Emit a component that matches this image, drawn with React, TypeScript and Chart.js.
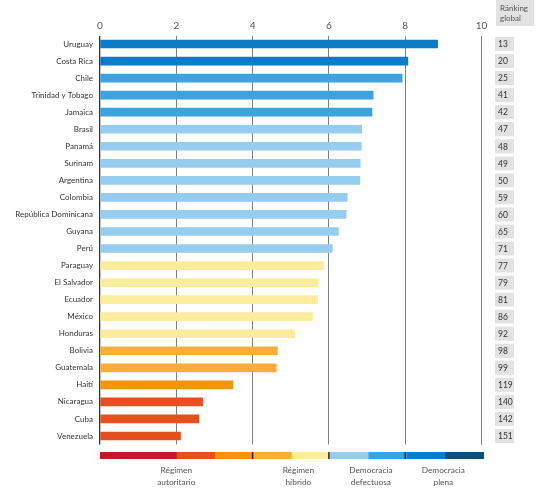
import React, { useEffect, useRef } from "react";
import { Chart, registerables } from "chart.js";

Chart.register(...registerables);

const countries = [
  "Uruguay", "Costa Rica", "Chile", "Trinidad y Tobago", "Jamaica", "Brasil", "Panamá",
  "Surinam", "Argentina", "Colombia", "República Dominicana", "Guyana", "Perú", "Paraguay",
  "El Salvador", "Ecuador", "México", "Honduras", "Bolivia", "Guatemala", "Haití",
  "Nicaragua", "Cuba", "Venezuela",
];
const scores = [
  8.85, 8.07, 7.92, 7.16, 7.13, 6.86, 6.85, 6.82, 6.81, 6.48, 6.45, 6.25, 6.09, 5.86,
  5.72, 5.71, 5.57, 5.1, 4.65, 4.62, 3.48, 2.69, 2.59, 2.11,
];
const ranks = [13, 20, 25, 41, 42, 47, 48, 49, 50, 59, 60, 65, 71, 77, 79, 81, 86, 92, 98, 99, 119, 140, 142, 151];
const xTicks = [0, 2, 4, 6, 8, 10];
const bandEdges = [0, 2, 3, 4, 5, 6, 7, 8, 9, 10];
const bandColors = [
  "#c3172a", "#e4501f", "#f29410", "#fbad3a", "#fcec9d", "#94cdee", "#3aa4de", "#0c7cc8", "#0d4d80",
];
const bandSeparators = [4, 6, 8];
const legendLabels = [
  ["Régimen", "autoritario"],
  ["Régimen", "híbrido"],
  ["Democracia", "defectuosa"],
  ["Democracia", "plena"],
];
const legendPositions = [2, 5.2, 7.1, 9];
const rankHeader = ["Ránking", "global"];

const FONT = "Lato, 'Noto Sans', sans-serif";

function colorFor(v: number): string {
  for (let i = 0; i < bandColors.length; i++) {
    if (v >= bandEdges[i] && v < bandEdges[i + 1]) return bandColors[i];
  }
  return bandColors[bandColors.length - 1];
}

const extras = {
  id: "extras",
  afterDraw(chart: any) {
    const { ctx, scales } = chart;
    const x = scales.x;
    const y = scales.y;
    ctx.save();
    // ranking header
    ctx.fillStyle = "#e2e2e2";
    ctx.fillRect(496, 0, 38, 26);
    ctx.fillStyle = "#555";
    ctx.font = `8px ${FONT}`;
    ctx.textAlign = "left";
    ctx.textBaseline = "middle";
    ctx.fillText(rankHeader[0], 500, 8);
    ctx.fillText(rankHeader[1], 500, 18.5);
    // ranking boxes
    ranks.forEach((r, i) => {
      const cy = y.getPixelForValue(i);
      ctx.fillStyle = "#e2e2e2";
      ctx.fillRect(495, cy - 7, 19, 14);
      ctx.fillStyle = "#333";
      ctx.font = `8.5px ${FONT}`;
      ctx.fillText(String(r), 498, cy + 0.5);
    });
    // legend band bar
    const top = 452;
    const h = 7;
    const x0all = x.getPixelForValue(0);
    const x1all = x.getPixelForValue(10) + 2;
    const k = (x1all - x0all) / 10;
    bandColors.forEach((c, i) => {
      const a = x0all + bandEdges[i] * k;
      const b = x0all + bandEdges[i + 1] * k;
      ctx.fillStyle = c;
      ctx.fillRect(a, top, b - a + 0.5, h);
    });
    ctx.fillStyle = "#222";
    bandSeparators.forEach((v) => {
      const px = x.getPixelForValue(v);
      ctx.fillRect(px - 0.75, top, 1.5, h);
    });
    ctx.fillStyle = "#555";
    ctx.font = `8.3px ${FONT}`;
    ctx.textAlign = "center";
    legendLabels.forEach((lines, i) => {
      const px = x.getPixelForValue(legendPositions[i]);
      lines.forEach((t, j) => ctx.fillText(t, px, 470.5 + j * 12));
    });
    ctx.restore();
  },
};

export default function App() {
  const ref = useRef<HTMLCanvasElement>(null);
  useEffect(() => {
    const chart = new Chart(ref.current!, {
      type: "bar",
      data: {
        labels: countries,
        datasets: [
          {
            data: scores,
            backgroundColor: scores.map(colorFor),
            barThickness: 8,
            borderWidth: 0,
          },
        ],
      },
      options: {
        indexAxis: "y",
        animation: false,
        responsive: false,
        maintainAspectRatio: false,
        layout: { padding: { top: 0, right: 63.5, bottom: 55.5, left: 0 } },
        plugins: { legend: { display: false }, tooltip: { enabled: false } },
        scales: {
          x: {
            position: "top",
            min: 0,
            max: 10,
            z: 1,
            afterBuildTicks: (s: any) => {
              s.ticks = xTicks.map((v) => ({ value: v }));
            },
            afterFit: (s: any) => {
              s.height = 35.5;
            },
            border: { display: false },
            grid: {
              drawTicks: false,
              color: (c: any) => (c.tick && c.tick.value === 0 ? "#333" : "#808080"),
              lineWidth: (c: any) => (c.tick && c.tick.value === 0 ? 1.3 : 1),
            },
            ticks: {
              padding: 4,
              color: "#555",
              font: { family: FONT, size: 10 },
            },
          },
          y: {
            afterFit: (s: any) => {
              s.width = 100;
            },
            border: { display: false },
            grid: { display: false, drawTicks: false },
            ticks: {
              padding: 7,
              color: "#333",
              font: { family: FONT, size: 8 },
              autoSkip: false,
            },
          },
        },
      },
      plugins: [extras],
    });
    return () => chart.destroy();
  }, []);
  return (
    <div style={{ position: "fixed", left: 0, top: 0, width: 545, height: 500, background: "#fff" }}>
      <canvas ref={ref} width={545} height={500} style={{ width: 545, height: 500 }} />
    </div>
  );
}
